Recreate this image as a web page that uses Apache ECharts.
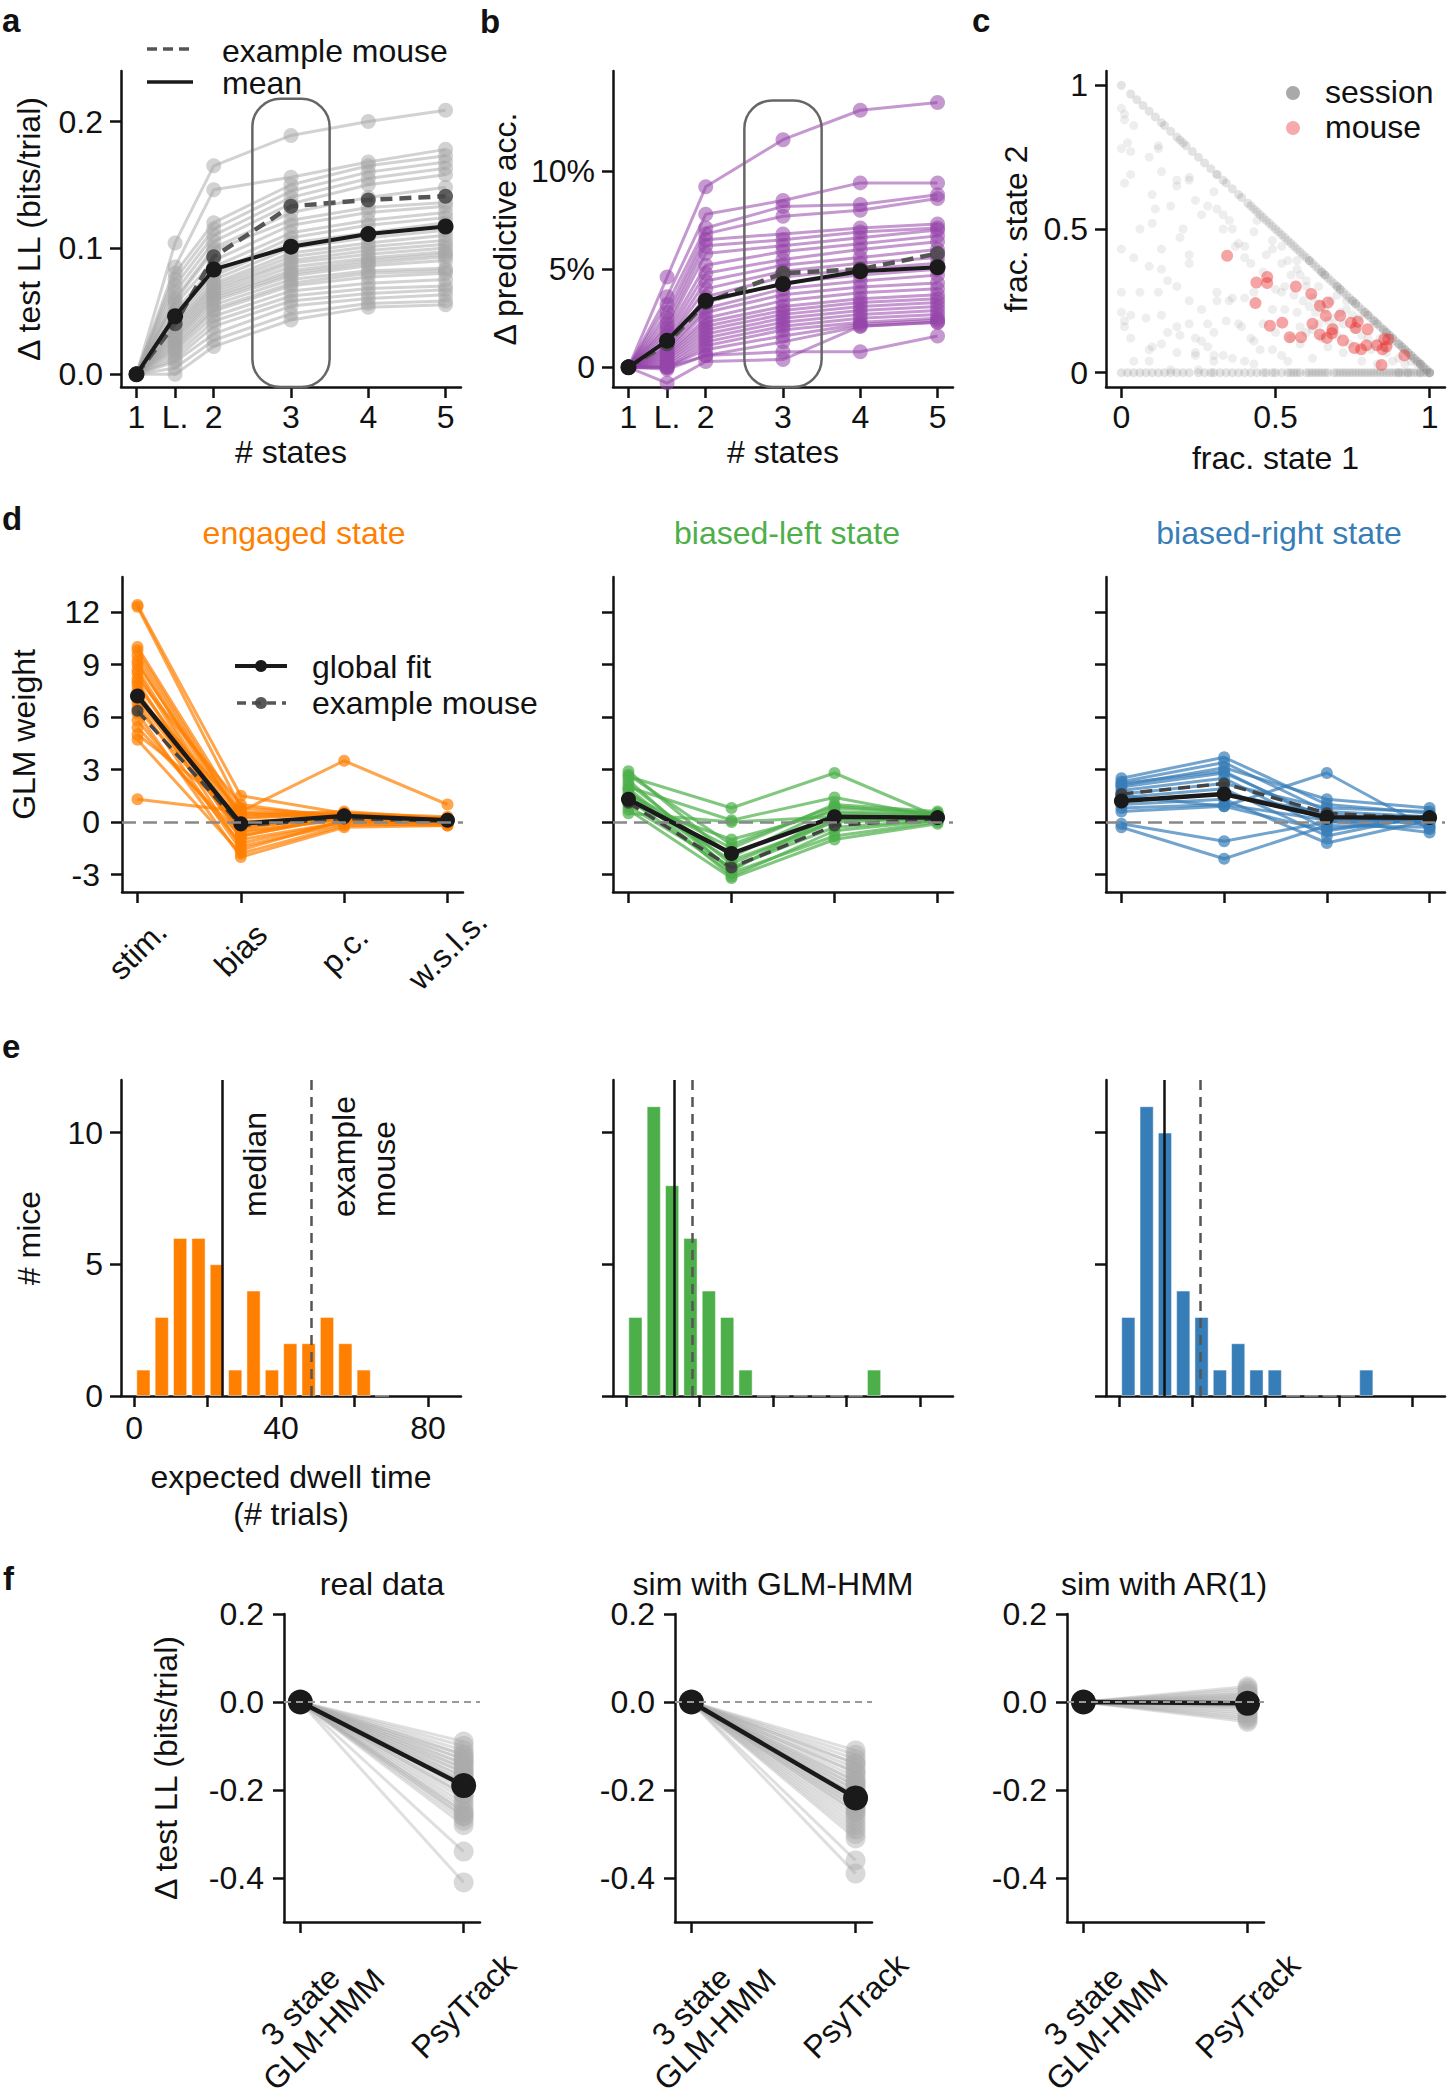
<!DOCTYPE html>
<html><head><meta charset="utf-8">
<script src="https://cdn.jsdelivr.net/npm/echarts@6/dist/echarts.min.js"></script>
<style>html,body{margin:0;padding:0;background:#fff}#c{width:1447px;height:2100px}</style>
</head><body><div id="c"></div><script>
// ---------------- DATA ----------------
// panel a / b : x positions and tick labels (# states)
const aX = [1, 1.5, 2, 3, 4, 5];
const aTickLabels = ['1', 'L.', '2', '3', '4', '5'];
// a: delta test LL (bits/trial), one row per mouse
const aMice = [
  [0, 0.104, 0.165, 0.189, 0.200, 0.209],
  [0, 0.085, 0.146, 0.156, 0.168, 0.178],
  [0, 0.080, 0.120, 0.150, 0.165, 0.173],
  [0, 0.075, 0.115, 0.145, 0.160, 0.168],
  [0, 0.070, 0.110, 0.140, 0.155, 0.163],
  [0, 0.065, 0.105, 0.135, 0.150, 0.158],
  [0, 0.060, 0.100, 0.128, 0.140, 0.148],
  [0, 0.058, 0.098, 0.122, 0.132, 0.136],
  [0, 0.055, 0.090, 0.118, 0.128, 0.133],
  [0, 0.050, 0.085, 0.112, 0.122, 0.128],
  [0, 0.048, 0.080, 0.108, 0.118, 0.124],
  [0, 0.045, 0.078, 0.104, 0.112, 0.120],
  [0, 0.042, 0.075, 0.100, 0.108, 0.114],
  [0, 0.040, 0.072, 0.096, 0.104, 0.110],
  [0, 0.038, 0.070, 0.093, 0.101, 0.106],
  [0, 0.036, 0.068, 0.090, 0.098, 0.103],
  [0, 0.034, 0.066, 0.088, 0.095, 0.100],
  [0, 0.032, 0.064, 0.085, 0.092, 0.097],
  [0, 0.030, 0.062, 0.082, 0.090, 0.095],
  [0, 0.028, 0.060, 0.080, 0.088, 0.093],
  [0, 0.026, 0.058, 0.078, 0.086, 0.090],
  [0, 0.024, 0.055, 0.075, 0.082, 0.084],
  [0, 0.022, 0.052, 0.072, 0.080, 0.082],
  [0, 0.020, 0.050, 0.070, 0.077, 0.080],
  [0, 0.018, 0.046, 0.066, 0.072, 0.075],
  [0, 0.015, 0.042, 0.062, 0.068, 0.070],
  [0, 0.012, 0.038, 0.058, 0.064, 0.067],
  [0, 0.010, 0.032, 0.054, 0.060, 0.063],
  [0, 0.005, 0.027, 0.048, 0.056, 0.058],
  [0, 0.000, 0.022, 0.043, 0.053, 0.055]
];
const aExample = [0, 0.040, 0.093, 0.133, 0.138, 0.141];
const aMean = [0, 0.046, 0.083, 0.101, 0.111, 0.117];
const aBox = [2.5, 3.5, -0.01, 0.218];   // highlighted 3-state column (x0,x1,y0,y1)
// b: delta predictive accuracy (%)
const bMice = [
  [0, 4.6, 9.2, 11.6, 13.1, 13.5],
  [0, 3.6, 7.8, 8.5, 9.4, 9.4],
  [0, 3.2, 7.1, 8.2, 8.3, 8.8],
  [0, 2.8, 6.8, 7.7, 8.0, 8.6],
  [0, 2.5, 6.5, 6.8, 7.1, 7.3],
  [0, 2.2, 6.2, 6.5, 6.9, 7.1],
  [0, 2.0, 5.8, 6.2, 6.6, 7.0],
  [0, 1.8, 5.2, 5.9, 6.3, 6.7],
  [0, 1.6, 4.8, 5.5, 6.0, 6.4],
  [0, 1.4, 4.4, 5.2, 5.6, 6.0],
  [0, 1.3, 4.0, 4.9, 5.3, 5.6],
  [0, 1.1, 3.6, 4.6, 5.0, 5.3],
  [0, 1.0, 3.3, 4.3, 4.7, 5.0],
  [0, 0.9, 3.0, 4.0, 4.4, 4.7],
  [0, 0.8, 2.8, 3.7, 4.1, 4.3],
  [0, 0.7, 2.5, 3.4, 3.8, 4.0],
  [0, 0.6, 2.3, 3.1, 3.5, 3.7],
  [0, 0.5, 2.1, 2.9, 3.3, 3.5],
  [0, 0.4, 1.9, 2.7, 3.1, 3.3],
  [0, 0.3, 1.7, 2.5, 2.9, 3.1],
  [0, 0.2, 1.5, 2.3, 2.7, 2.9],
  [0, 0.1, 1.3, 2.1, 2.5, 2.7],
  [0, 0.0, 1.1, 1.9, 2.3, 2.5],
  [0, 0.0, 0.9, 1.6, 2.2, 2.4],
  [0, -0.1, 0.6, 1.3, 2.1, 2.3],
  [0, 0.0, 0.6, 0.8, 0.8, 1.6],
  [0, -0.8, 0.3, 0.4, 2.1, 2.3]
];
const bExample = [0, 1.2, 3.3, 4.8, 5.0, 5.8];
const bMean = [0, 1.36, 3.4, 4.25, 4.9, 5.1];
const bBox = [2.5, 3.5, -1.0, 13.6];
// c: fraction of trials in state 1 / state 2
const cSessionsDiagonal = [
  [0,1],[0.03,0.97],[0.05,0.95],[0.07,0.93],[0.09,0.91],[0.11,0.89],[0.13,0.87],[0.14,0.86],[0.16,0.84],[0.18,0.82],
  [0.19,0.81],[0.21,0.79],[0.23,0.77],[0.25,0.75],[0.27,0.73],[0.29,0.71],[0.31,0.69],[0.33,0.67],[0.34,0.66],[0.36,0.64],
  [0.38,0.62],[0.39,0.61],[0.41,0.59],[0.43,0.57],[0.45,0.55],[0.46,0.54],[0.48,0.52],[0.5,0.5],[0.51,0.49],[0.53,0.47],
  [0.55,0.45],[0.56,0.44],[0.57,0.43],[0.59,0.41],[0.6,0.4],[0.62,0.38],[0.63,0.37],[0.65,0.35],[0.66,0.34],[0.68,0.32],
  [0.69,0.31],[0.71,0.29],[0.72,0.28],[0.73,0.27],[0.75,0.25],[0.76,0.24],[0.78,0.22],[0.79,0.21],[0.8,0.2],[0.82,0.18],
  [0.83,0.17],[0.84,0.16],[0.86,0.14],[0.87,0.13],[0.88,0.12],[0.9,0.1],[0.91,0.09],[0.92,0.08],[0.93,0.07],[0.95,0.05],
  [0.96,0.04],[0.97,0.03],[0.98,0.02],[0.99,0.01],[1,0],[0.58,0.42],[0.64,0.36],[0.7,0.3],[0.74,0.26],[0.77,0.23],
  [0.81,0.19],[0.85,0.15],[0.89,0.11],[0.94,0.06],[0.97,0.03],[0.47,0.53],[0.52,0.48],[0.61,0.39],[0.67,0.33],[0.2,0.8],
  [0.42,0.58],[0.44,0.56],[0.49,0.51],[0.54,0.46],[0.61,0.39],[0.66,0.34],[0.71,0.29],[0.76,0.24],[0.8,0.2],[0.83,0.17],
  [0.86,0.14],[0.88,0.12],[0.9,0.1],[0.92,0.08],[0.94,0.06],[0.96,0.04],[0.98,0.02],[1,0],[0.99,0.01],[0.97,0.03],
  [0.65,0.35],[0.7,0.3],[0.75,0.25],[0.79,0.21],[0.82,0.18],[0.85,0.15],[0.87,0.13],[0.91,0.09],[0.93,0.07],[0.95,0.05]
];
const cSessionsAxis = [
  [0,0],[0.02,0],[0.04,0],[0.06,0],[0.08,0],[0.1,0],[0.12,0],[0.14,0],[0.16,0],[0.18,0],[0.2,0],[0.22,0],[0.25,0],
  [0.27,0],[0.29,0],[0.3,0],[0.32,0],[0.34,0],[0.36,0],[0.38,0],[0.4,0],[0.42,0],[0.44,0],[0.46,0],[0.47,0],[0.49,0],
  [0.5,0],[0.52,0],[0.54,0],[0.55,0],[0.57,0],[0.58,0],[0.6,0],[0.61,0],[0.63,0],[0.64,0],[0.66,0],[0.67,0],[0.69,0],
  [0.7,0],[0.72,0],[0.73,0],[0.75,0],[0.76,0],[0.78,0],[0.79,0],[0.8,0],[0.82,0],[0.83,0],[0.85,0],[0.86,0],[0.87,0],
  [0.89,0],[0.9,0],[0.91,0],[0.93,0],[0.94,0],[0.95,0],[0.97,0],[0.98,0],[1,0],[0.88,0],[0.92,0],[0.96,0],[0.99,0],
  [0.65,0],[0.71,0],[0.77,0],[0.81,0],[0.84,0],[0.9,0],[0.93,0],[0.97,0],[1,0],[0.56,0],[0.62,0],[0.74,0]
];
const cSessionsInterior = [
  [0.00,0.92],[0.01,0.90],[0.01,0.88],[0.04,0.86],[0.02,0.80],[0.00,0.78],[0.03,0.77],[0.09,0.75],[0.12,0.78],[0.12,0.79],
  [0.13,0.70],[0.03,0.69],[0.01,0.66],[0.18,0.67],[0.22,0.68],[0.22,0.67],[0.18,0.65],[0.10,0.62],[0.11,0.57],[0.10,0.52],
  [0.00,0.43],[0.13,0.43],[0.19,0.47],[0.22,0.41],[0.22,0.38],[0.09,0.37],[0.13,0.36],[0.00,0.28],[0.06,0.28],[0.12,0.28],
  [0.00,0.21],[0.03,0.20],[0.08,0.19],[0.13,0.20],[0.01,0.18],[0.01,0.16],[0.03,0.12],[0.04,0.04],[0.09,0.04],[0.09,0.08],
  [0.10,0.09],[0.13,0.10],[0.15,0.14],[0.16,0.01],[0.18,0.07],[0.19,0.13],[0.24,0.07],[0.24,0.06],[0.28,0.09],[0.30,0.04],
  [0.31,0.57],[0.28,0.58],[0.30,0.63],[0.31,0.69],[0.33,0.50],[0.33,0.55],[0.35,0.53],[0.37,0.44],[0.40,0.44],[0.40,0.40],
  [0.43,0.49],[0.44,0.53],[0.47,0.41],[0.49,0.43],[0.49,0.46],[0.52,0.44],[0.52,0.38],[0.54,0.39],[0.57,0.39],[0.57,0.36],
  [0.58,0.34],[0.60,0.32],[0.55,0.34],[0.53,0.30],[0.50,0.29],[0.52,0.28],[0.56,0.27],[0.59,0.25],[0.61,0.23],[0.63,0.21],
  [0.57,0.21],[0.53,0.22],[0.49,0.22],[0.43,0.28],[0.40,0.26],[0.36,0.26],[0.31,0.28],[0.31,0.25],[0.35,0.25],[0.34,0.18],
  [0.38,0.17],[0.39,0.16],[0.42,0.12],[0.43,0.11],[0.45,0.08],[0.49,0.08],[0.52,0.06],[0.54,0.04],[0.58,0.10],[0.60,0.14],
  [0.62,0.15],[0.64,0.17],[0.67,0.18],[0.69,0.19],[0.71,0.21],[0.73,0.22],[0.75,0.20],[0.77,0.19],[0.67,0.09],[0.72,0.07],
  [0.78,0.04],[0.83,0.03],[0.86,0.07],[0.88,0.04],[0.92,0.03],[0.94,0.04],[0.96,0.03],[0.25,0.01],[0.30,0.06],[0.33,0.06],
  [0.36,0.05],[0.40,0.04],[0.43,0.03],[0.18,0.16],[0.22,0.17],[0.28,0.17],[0.30,0.14],[0.24,0.12],[0.26,0.11],[0.64,0.30],
  [0.68,0.25],[0.70,0.27],[0.73,0.25],[0.76,0.15],[0.80,0.12],[0.82,0.10],[0.85,0.09],[0.90,0.05],[0.62,0.05],[0.65,0.12],
  [0.70,0.13],[0.74,0.10],[0.46,0.35],[0.42,0.38],[0.38,0.45],[0.36,0.50],[0.26,0.55],[0.24,0.60],[0.20,0.50],[0.16,0.58],
  [0.06,0.50],[0.04,0.40],[0.15,0.32],[0.18,0.30],[0.22,0.25],[0.26,0.22],[0.46,0.17],[0.50,0.14],[0.55,0.12],[0.58,0.16],
  [0.66,0.22],[0.69,0.16],[0.72,0.17],[0.78,0.13],[0.81,0.08],[0.84,0.12],[0.87,0.10],[0.62,0.26],[0.60,0.30],[0.64,0.24]
];
const cMice = [
  [0.343,0.407],[0.438,0.314],[0.473,0.333],[0.473,0.312],[0.435,0.242],[0.482,0.163],[0.522,0.174],[0.546,0.123],
  [0.583,0.123],[0.566,0.300],[0.616,0.274],[0.620,0.170],[0.644,0.233],[0.644,0.133],[0.663,0.198],[0.670,0.244],
  [0.667,0.121],[0.683,0.137],[0.685,0.151],[0.710,0.198],[0.719,0.112],[0.745,0.174],[0.756,0.086],[0.760,0.155],
  [0.767,0.177],[0.778,0.081],[0.795,0.095],[0.799,0.151],[0.829,0.095],[0.844,0.027],[0.847,0.081],[0.853,0.116],
  [0.860,0.091],[0.866,0.116],[0.918,0.060]
];
// d: GLM weights per feature
const dFeatures = ['stim.', 'bias', 'p.c.', 'w.s.l.s.'];
const dStateNames = ['engaged state', 'biased-left state', 'biased-right state'];
const dEngaged = [
  [12.4, 1.5, 0.5, 0.3], [12.3, 0.8, 0.4, 0.2], [10.0, 0.5, 0.3, 0.1], [9.8, 0.2, 0.5, 0.2],
  [9.5, 0.0, 0.3, 0.0], [9.2, -0.3, 0.2, 0.1], [9.0, 0.3, 0.4, 0.0], [8.7, -0.5, 0.1, -0.1],
  [8.5, -0.8, 0.3, 0.0], [8.2, 1.0, 0.2, 0.1], [8.0, -1.0, 0.0, 0.0], [7.8, -0.2, 0.4, 0.2],
  [7.5, -1.4, -0.1, -0.2], [7.2, 0.6, 3.5, 1.0], [7.0, -0.6, 0.2, 0.0], [6.8, -1.6, 0.1, -0.1],
  [6.5, -0.4, 0.5, 0.1], [6.2, -2.0, -0.3, -0.2], [5.8, -1.2, 0.0, 0.0], [5.4, -0.8, 0.3, 0.1],
  [5.0, 0.4, 0.6, 0.2], [4.7, -1.8, -0.2, -0.1], [1.3, 0.6, 0.4, 0.2]
];
const dEngagedGlobal = [7.2, -0.1, 0.35, 0.1];
const dEngagedExample = [6.35, -0.2, 0.2, 0.05];
const dLeft = [
  [2.9, -2.0, 0.8, 0.5], [2.6, 0.8, 2.8, 0.3], [2.4, -2.8, 0.5, 0.4], [2.2, -2.4, 0.2, 0.2],
  [2.0, 0.1, 1.4, 0.3], [1.8, -3.1, -0.5, 0.1], [1.6, -1.5, 1.0, 0.6], [1.5, -2.2, 0.0, 0.2],
  [1.3, -2.9, -0.8, 0.0], [1.1, -1.0, 0.6, 0.4], [0.9, -2.6, -0.3, 0.1], [0.7, -3.2, -1.0, -0.1],
  [0.5, 0.0, 0.3, 0.2], [2.7, -1.3, 0.9, 0.5], [1.9, -2.7, 0.1, 0.2]
];
const dLeftGlobal = [1.3, -1.8, 0.3, 0.25];
const dLeftExample = [1.1, -2.6, -0.2, 0.2];
const dRight = [
  [2.5, 3.7, 1.0, 0.5], [2.3, 3.4, 0.6, 0.3], [2.1, 3.1, 1.3, 0.8], [2.0, 2.8, 0.2, 0.0],
  [1.8, 2.5, -0.4, 0.2], [1.6, 2.2, 0.8, 0.6], [1.4, 1.9, -0.8, 0.4], [1.2, 1.6, 0.5, -0.2],
  [1.0, 1.3, -1.2, 0.1], [0.8, 1.0, 0.1, -0.6], [0.6, 0.9, -0.5, 0.3], [-0.1, -1.1, 0.0, 0.0],
  [-0.3, -2.1, -0.2, -0.3], [1.5, 0.9, 2.8, -0.4], [2.2, 2.9, 0.0, 0.2]
];
const dRightGlobal = [1.2, 1.6, 0.27, 0.25];
const dRightExample = [1.6, 2.2, 0.5, 0.2];
// e: histogram of expected dwell time
const eBinCenters = [2.5, 7.5, 12.5, 17.5, 22.5, 27.5, 32.5, 37.5, 42.5, 47.5, 52.5, 57.5, 62.5, 67.5];
const eEngagedCounts = [1, 3, 6, 6, 5, 1, 4, 1, 2, 2, 3, 2, 1, 0];
const eLeftCounts    = [3, 11, 8, 6, 4, 3, 1, 0, 0, 0, 0, 0, 0, 1];
const eRightCounts   = [3, 11, 10, 4, 3, 1, 2, 1, 1, 0, 0, 0, 0, 1];
const eMedians  = [23.9, 13.0, 12.4];
const eExamples = [48.2, 18.0, 22.2];
const eLineLabels = ['median', 'example\nmouse'];
// f: delta test LL, PsyTrack relative to 3-state GLM-HMM
const fConditions = ['real data', 'sim with GLM-HMM', 'sim with AR(1)'];
const fModels = ['\n3 state\nGLM-HMM', 'PsyTrack'];
const fBaseline = 0;
const fReal = [-0.09,-0.10,-0.11,-0.12,-0.12,-0.13,-0.13,-0.14,-0.14,-0.15,-0.15,-0.16,-0.16,-0.17,-0.17,-0.18,-0.18,
  -0.19,-0.19,-0.20,-0.21,-0.21,-0.22,-0.23,-0.24,-0.25,-0.25,-0.26,-0.26,-0.27,-0.28,-0.34,-0.41];
const fSimGlm = [-0.11,-0.12,-0.13,-0.14,-0.14,-0.15,-0.16,-0.16,-0.17,-0.18,-0.18,-0.19,-0.19,-0.20,-0.20,-0.21,-0.21,
  -0.22,-0.22,-0.23,-0.23,-0.24,-0.24,-0.25,-0.25,-0.26,-0.27,-0.28,-0.29,-0.30,-0.31,-0.36,-0.39];
const fSimAr = [0.035,0.03,0.025,0.02,0.018,0.015,0.012,0.01,0.008,0.005,0.003,0.0,-0.002,-0.005,-0.008,-0.01,
  -0.012,-0.015,-0.02,-0.025,-0.03,-0.035,-0.04,-0.045];
const fMeans = [-0.19, -0.218, -0.003];

// ---------------- STYLE / LAYOUT ----------------
const FONT = '"Liberation Sans", Arial, Helvetica, sans-serif';
const FS = 32;
const INK = '#111111';
const ORANGE = '#ff7f00', GREEN = '#4daf4a', BLUE = '#377eb8';
const GRIDS = [
  {left: 121, top: 71, width: 340, height: 316},   // a
  {left: 613, top: 71, width: 340, height: 316},   // b
  {left: 1106, top: 71, width: 339, height: 316},  // c
  {left: 122, top: 577, width: 341, height: 315},  // d1
  {left: 613, top: 577, width: 340, height: 315},  // d2
  {left: 1106, top: 577, width: 339, height: 315}, // d3
  {left: 121, top: 1080, width: 340, height: 316}, // e1
  {left: 613, top: 1080, width: 340, height: 316}, // e2
  {left: 1106, top: 1080, width: 339, height: 316},// e3
  {left: 284, top: 1614, width: 196, height: 308}, // f1
  {left: 675, top: 1614, width: 197, height: 308}, // f2
  {left: 1067, top: 1614, width: 197, height: 308} // f3
];

function valAxis(gi, o) {
  return {
    type: 'value', gridIndex: gi, min: o.min, max: o.max,
    axisLine: {show: true, onZero: false, lineStyle: {color: INK, width: 2.5}},
    axisTick: {show: true, length: 11, lineStyle: {color: INK, width: 2.5}, customValues: o.ticks},
    axisLabel: Object.assign({
      show: o.labels !== false, customValues: o.labelVals || o.ticks, fontSize: FS, color: INK,
      fontFamily: FONT, margin: o.margin == null ? 16 : o.margin, formatter: o.fmt
    }, o.labelExtra || {}),
    splitLine: {show: false},
    name: o.name || '', nameLocation: 'middle', nameGap: o.nameGap || 0,
    nameTextStyle: {fontSize: FS, color: INK, fontFamily: FONT, lineHeight: 37}
  };
}
function lineSeries(gi, data, color, width, size, dotColor, z, dash) {
  return {
    type: 'line', xAxisIndex: gi, yAxisIndex: gi, data: data, symbol: 'circle', symbolSize: size,
    showSymbol: true, showAllSymbol: true,
    lineStyle: {color: color, width: width, type: dash || 'solid'},
    itemStyle: {color: dotColor || color}, z: z, silent: true, emphasis: {disabled: true}
  };
}
function zeroLine(gi, width, dash, color, z) {
  return {
    type: 'line', xAxisIndex: gi, yAxisIndex: gi, data: [], z: z, silent: true,
    markLine: {silent: true, symbol: ['none', 'none'], animation: false, label: {show: false},
      lineStyle: {type: dash, color: color, width: width}, data: [{yAxis: 0}]}
  };
}
function boxSeries(gi, box) {
  return {
    type: 'custom', xAxisIndex: gi, yAxisIndex: gi, silent: true, z: 6, clip: false,
    data: [box],
    renderItem: function (params, api) {
      const p0 = api.coord([api.value(0), api.value(3)]);
      const p1 = api.coord([api.value(1), api.value(2)]);
      return {type: 'rect', shape: {x: p0[0], y: p0[1], width: p1[0] - p0[0], height: p1[1] - p0[1], r: 28},
        style: {fill: 'none', stroke: '#666', lineWidth: 2.5}};
    }
  };
}

const xAxes = [], yAxes = [], series = [];

// ---- a ----
const statesFmt = v => aTickLabels[aX.indexOf(v)];
xAxes.push(valAxis(0, {min: 0.8, max: 5.2, ticks: aX, fmt: statesFmt, name: '# states', nameGap: 42, margin: 14}));
yAxes.push(valAxis(0, {min: -0.01, max: 0.24, ticks: [0, 0.1, 0.2], fmt: v => v.toFixed(1),
  name: 'Δ test LL (bits/trial)', nameGap: 74, margin: 18}));
aMice.forEach(m => series.push(lineSeries(0, aX.map((x, i) => [x, m[i]]), 'rgba(165,165,165,0.5)', 3, 15, 'rgba(165,165,165,0.5)', 2)));
series.push(lineSeries(0, aX.map((x, i) => [x, aExample[i]]), '#555', 4.5, 15, 'rgba(70,70,70,0.85)', 3, [12, 7]));
series.push(lineSeries(0, aX.map((x, i) => [x, aMean[i]]), '#1a1a1a', 4, 16, '#1a1a1a', 4));
series.push(boxSeries(0, aBox));

// ---- b ----
xAxes.push(valAxis(1, {min: 0.8, max: 5.2, ticks: aX, fmt: statesFmt, name: '# states', nameGap: 42, margin: 14}));
yAxes.push(valAxis(1, {min: -1, max: 15.1, ticks: [0, 5, 10], fmt: v => v === 0 ? '0' : v + '%',
  name: 'Δ predictive acc.', nameGap: 90, margin: 18}));
bMice.forEach(m => series.push(lineSeries(1, aX.map((x, i) => [x, m[i]]), 'rgba(150,70,170,0.55)', 3, 15, 'rgba(150,70,170,0.55)', 2)));
series.push(lineSeries(1, aX.map((x, i) => [x, bExample[i]]), '#555', 4.5, 15, 'rgba(70,70,70,0.85)', 3, [12, 7]));
series.push(lineSeries(1, aX.map((x, i) => [x, bMean[i]]), '#1a1a1a', 4, 16, '#1a1a1a', 4));
series.push(boxSeries(1, bBox));

// ---- c ----
xAxes.push(valAxis(2, {min: -0.05, max: 1.05, ticks: [0, 0.5, 1], fmt: v => String(v), name: 'frac. state 1', nameGap: 52, margin: 14}));
yAxes.push(valAxis(2, {min: -0.05, max: 1.05, ticks: [0, 0.5, 1], fmt: v => String(v), name: 'frac. state 2', nameGap: 72, margin: 18}));
series.push({type: 'scatter', xAxisIndex: 2, yAxisIndex: 2, data: cSessionsInterior, symbolSize: 9, silent: true, z: 2,
  itemStyle: {color: 'rgba(140,140,140,0.18)'}});
[cSessionsDiagonal, cSessionsAxis].forEach(arr => series.push({
  type: 'scatter', xAxisIndex: 2, yAxisIndex: 2, data: arr, symbolSize: 9, silent: true, z: 2,
  itemStyle: {color: 'rgba(140,140,140,0.3)'}
}));
series.push({type: 'scatter', xAxisIndex: 2, yAxisIndex: 2, data: cMice, symbolSize: 12, silent: true, z: 3,
  itemStyle: {color: 'rgba(232,45,45,0.55)'}});

// ---- d ----
const dX = [0, 1, 2, 3];
const dSets = [
  {mice: dEngaged, glob: dEngagedGlobal, ex: dEngagedExample, col: 'rgba(255,127,0,0.7)'},
  {mice: dLeft, glob: dLeftGlobal, ex: dLeftExample, col: 'rgba(77,175,74,0.7)'},
  {mice: dRight, glob: dRightGlobal, ex: dRightExample, col: 'rgba(55,126,184,0.7)'}
];
dSets.forEach((s, k) => {
  const gi = 3 + k;
  xAxes.push(valAxis(gi, {min: -0.15, max: 3.15, ticks: dX, labels: k === 0, fmt: v => dFeatures[v], margin: 58,
    labelExtra: {rotate: 45, align: 'center', verticalAlign: 'middle'}}));
  yAxes.push(valAxis(gi, {min: -4, max: 14, ticks: [-3, 0, 3, 6, 9, 12], labels: k === 0, fmt: v => String(v),
    name: k === 0 ? 'GLM weight' : '', nameGap: 80, margin: 22}));
  series.push(zeroLine(gi, 2.5, [14, 7], '#888', 1));
  s.mice.forEach(m => series.push(lineSeries(gi, dX.map((x, i) => [x, m[i]]), s.col, 3, 12, s.col, 2)));
  series.push(lineSeries(gi, dX.map((x, i) => [x, s.ex[i]]), '#444', 3.5, 12, 'rgba(60,60,60,0.85)', 3, [12, 7]));
  series.push(lineSeries(gi, dX.map((x, i) => [x, s.glob[i]]), '#1a1a1a', 4.5, 15, '#1a1a1a', 4));
});

// ---- e ----
const eSets = [
  {counts: eEngagedCounts, col: ORANGE},
  {counts: eLeftCounts, col: GREEN},
  {counts: eRightCounts, col: BLUE}
];
eSets.forEach((s, k) => {
  const gi = 6 + k;
  xAxes.push(valAxis(gi, {min: -3.6, max: 89, ticks: [0, 20, 40, 60, 80], labelVals: [0, 40, 80], labels: k === 0,
    fmt: v => String(v), name: k === 0 ? 'expected dwell time\n(# trials)' : '', nameGap: 62, margin: 16}));
  yAxes.push(valAxis(gi, {min: 0, max: 12, ticks: [0, 5, 10], labels: k === 0, fmt: v => String(v),
    name: k === 0 ? '# mice' : '', nameGap: 74, margin: 18}));
  series.push({
    type: 'bar', xAxisIndex: gi, yAxisIndex: gi, barWidth: 14, silent: true, z: 2,
    data: eBinCenters.map((c, i) => [c, s.counts[i]]),
    itemStyle: {color: s.col, borderColor: 'rgba(255,255,255,0.6)', borderWidth: 0.8},
    markLine: {silent: true, symbol: ['none', 'none'], animation: false, label: {show: false}, z: 5,
      data: [
        {xAxis: eMedians[k], lineStyle: {color: '#111', width: 2.5, type: 'solid'}},
        {xAxis: eExamples[k], lineStyle: {color: '#555', width: 2.5, type: [10, 7]}}
      ]}
  });
});
series.push({
  type: 'custom', xAxisIndex: 6, yAxisIndex: 6, silent: true, z: 6, clip: false,
  data: [[eMedians[0], 6.8, 0], [eExamples[0], 6.8, 1]],
  renderItem: function (params, api) {
    const p = api.coord([api.value(0), api.value(1)]);
    return {type: 'text', x: p[0] + 13, y: p[1], rotation: Math.PI / 2,
      style: {text: eLineLabels[api.value(2)], fill: INK, font: FS + 'px ' + FONT, lineHeight: 40,
        align: 'left', verticalAlign: 'top', textAlign: 'left', textVerticalAlign: 'top'}};
  }
});

// ---- f ----
const fSets = [fReal, fSimGlm, fSimAr];
fSets.forEach((vals, k) => {
  const gi = 9 + k;
  xAxes.push(valAxis(gi, {min: -0.1, max: 1.1, ticks: [0, 1], fmt: v => fModels[v], margin: 84,
    labelExtra: {rotate: 45, align: 'center', verticalAlign: 'middle', lineHeight: 33}}));
  yAxes.push(valAxis(gi, {min: -0.5, max: 0.2, ticks: [-0.4, -0.2, 0, 0.2], fmt: v => v.toFixed(1),
    name: k === 0 ? 'Δ test LL (bits/trial)' : '', nameGap: 100, margin: 20}));
  vals.forEach(v => series.push(lineSeries(gi, [[0, fBaseline], [1, v]], 'rgba(175,175,175,0.4)', 3, 20, 'rgba(170,170,170,0.45)', 2)));
  series.push(lineSeries(gi, [[0, fBaseline], [1, fMeans[k]]], '#1a1a1a', 4.5, 25, '#1a1a1a', 4));
  series.push(zeroLine(gi, 2, [7, 5], '#999', 10));
});

// ---------------- TEXT / LEGENDS ----------------
const g = [];
function txt(x, y, text, opts) {
  opts = opts || {};
  g.push({type: 'text', x: x, y: y, rotation: opts.rot || 0, silent: true, z: 100,
    style: {text: text, fill: opts.color || INK, font: (opts.weight || 'normal') + ' ' + (opts.size || FS) + 'px ' + FONT,
      align: opts.align || 'left', verticalAlign: 'middle', textAlign: opts.align || 'left', textVerticalAlign: 'middle'}});
}
// panel letters
[['a', 2, 20], ['b', 480, 21], ['c', 972, 20], ['d', 2, 518], ['e', 2, 1046], ['f', 3, 1578]]
  .forEach(l => txt(l[1], l[2], l[0], {weight: 'bold', size: 33}));
// d titles
const dTitleColors = [ORANGE, GREEN, BLUE];
[304, 787, 1279].forEach((x, k) => txt(x, 533, dStateNames[k], {color: dTitleColors[k], align: 'center'}));
// f titles
[382, 773, 1164].forEach((x, k) => txt(x, 1584, fConditions[k], {align: 'center'}));
// legend a
g.push({type: 'line', silent: true, z: 100, shape: {x1: 147, y1: 49, x2: 193, y2: 49}, style: {stroke: '#555', lineWidth: 3.5, lineDash: [10, 6]}});
g.push({type: 'line', silent: true, z: 100, shape: {x1: 147, y1: 82, x2: 193, y2: 82}, style: {stroke: '#1a1a1a', lineWidth: 3.5}});
txt(222, 51, 'example mouse');
txt(222, 83, 'mean');
// legend c
g.push({type: 'circle', silent: true, z: 100, shape: {cx: 1293, cy: 93, r: 7}, style: {fill: 'rgba(140,140,140,0.75)'}});
g.push({type: 'circle', silent: true, z: 100, shape: {cx: 1293, cy: 128, r: 7}, style: {fill: 'rgba(240,100,100,0.55)'}});
txt(1325, 92, 'session');
txt(1325, 127, 'mouse');
// legend d
g.push({type: 'line', silent: true, z: 100, shape: {x1: 235, y1: 666, x2: 287, y2: 666}, style: {stroke: '#1a1a1a', lineWidth: 4}});
g.push({type: 'circle', silent: true, z: 100, shape: {cx: 261, cy: 666, r: 6}, style: {fill: '#1a1a1a'}});
g.push({type: 'line', silent: true, z: 100, shape: {x1: 237, y1: 703, x2: 286, y2: 703}, style: {stroke: '#555', lineWidth: 3.5, lineDash: [9, 6]}});
g.push({type: 'circle', silent: true, z: 100, shape: {cx: 261, cy: 703, r: 6}, style: {fill: 'rgba(70,70,70,0.9)'}});
txt(312, 667, 'global fit');
txt(312, 703, 'example mouse');

const chart = echarts.init(document.getElementById('c'), null, {renderer: 'svg', width: 1447, height: 2100});
chart.setOption({
  animation: false,
  backgroundColor: '#ffffff',
  textStyle: {fontFamily: FONT},
  grid: GRIDS.map(r => Object.assign({containLabel: false}, r)),
  xAxis: xAxes,
  yAxis: yAxes,
  series: series,
  graphic: {elements: g}
});
</script></body></html>
